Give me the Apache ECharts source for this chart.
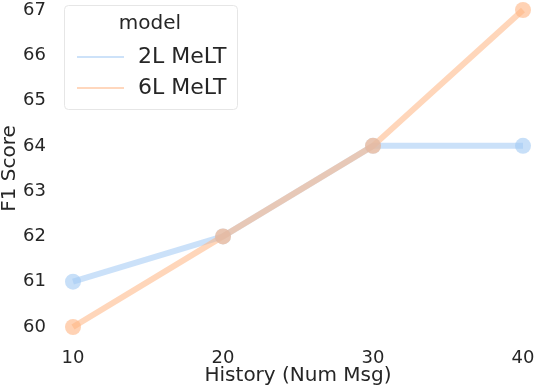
<!DOCTYPE html>
<html><head><meta charset="utf-8">
<script src="https://cdn.jsdelivr.net/npm/echarts@6/dist/echarts.min.js"></script>
<style>html,body{margin:0;padding:0;background:#fff}#c{width:534px;height:390px}</style>
</head><body><div id="c"></div>
<script>
const categories = [10, 20, 30, 40];
const series2L = [61, 62, 64, 64];
const series6L = [60, 62, 64, 67];
const seriesNames = ['2L MeLT', '6L MeLT'];
const yTicks = [60, 61, 62, 63, 64, 65, 66, 67];

const FONT = 'DejaVu Sans';
const TXT = '#262626';
const blue = '#a1c9f4', orange = '#ffb482';

function mk(name, vals, color) {
  return {
    name: name, type: 'line',
    data: categories.map((x, i) => [x, vals[i]]),
    lineStyle: { color: color, width: 6, opacity: 0.55 },
    itemStyle: { color: color, opacity: 0.6 },
    symbol: 'circle', symbolSize: 16,
    emphasis: { disabled: true },
    z: 2
  };
}

const chart = echarts.init(document.getElementById('c'), null, { renderer: 'canvas' });
chart.setOption({
  animation: false,
  backgroundColor: '#fff',
  grid: { left: 73, right: 11, top: 10, bottom: 63, containLabel: false, outerBoundsMode: 'none' },
  xAxis: {
    type: 'value', min: 10, max: 40, interval: 10,
    axisLine: { show: false }, axisTick: { show: false }, splitLine: { show: false },
    axisLabel: { color: TXT, fontFamily: FONT, fontSize: 18, margin: 22 },
    name: 'History (Num Msg)', nameLocation: 'middle', nameGap: 39, nameMoveOverlap: false,
    nameTextStyle: { color: TXT, fontFamily: FONT, fontSize: 20 }
  },
  yAxis: {
    type: 'value', min: 60, max: 67, interval: 1,
    axisLine: { show: false }, axisTick: { show: false }, splitLine: { show: false },
    axisLabel: { color: TXT, fontFamily: FONT, fontSize: 18, margin: 27 },
    name: 'F1 Score', nameLocation: 'middle', nameGap: 53, nameMoveOverlap: false,
    nameTextStyle: { color: TXT, fontFamily: FONT, fontSize: 20 }
  },
  legend: {
    orient: 'vertical', left: 72, top: 41, itemGap: 9,
    itemWidth: 47, itemHeight: 1.5,
    textStyle: { color: TXT, fontFamily: FONT, fontSize: 22, padding: [0, 0, 0, 9] },
    data: [
      { name: seriesNames[0], icon: 'rect', itemStyle: { color: blue, opacity: 0.7 } },
      { name: seriesNames[1], icon: 'rect', itemStyle: { color: orange, opacity: 0.7 } }
    ]
  },
  graphic: [
    { type: 'rect', left: 64, top: 5, z: 1, shape: { width: 173, height: 104, r: 4 },
      style: { fill: 'rgba(255,255,255,0.8)', stroke: '#e6e6e6', lineWidth: 1 } },
    { type: 'text', z: 2, x: 150, y: 14,
      style: { text: 'model', fill: TXT, font: '20px "DejaVu Sans"', textAlign: 'center' } }
  ],
  series: [mk(seriesNames[0], series2L, blue), mk(seriesNames[1], series6L, orange)]
});
</script></body></html>
